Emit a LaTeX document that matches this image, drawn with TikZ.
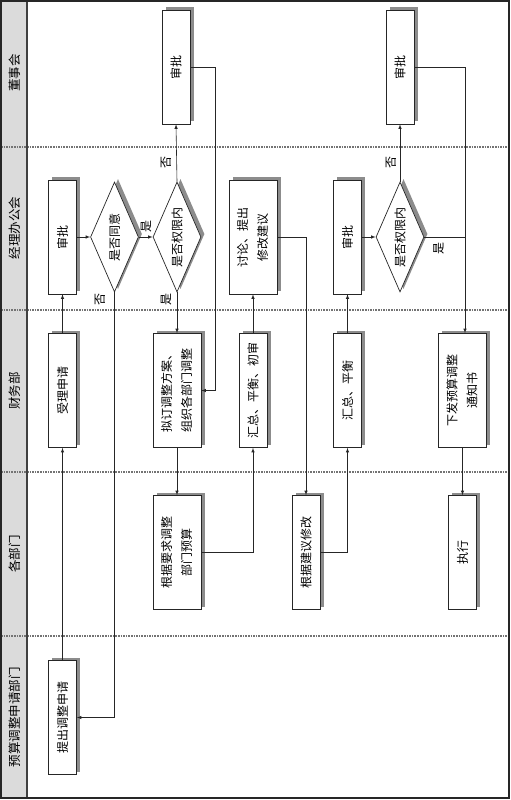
\documentclass[tikz,border=0pt]{standalone}
\usepackage{fontspec}
\newfontfamily\cjk{Noto Sans CJK SC}
\usetikzlibrary{shapes.geometric, shadows}

\begin{document}
\begin{tikzpicture}[x=1pt,y=-1pt,
        task/.style={% For the process boxes
            rectangle,
            draw=black!85,
            line width=0.7pt,
            fill=white,
            inner sep=0pt,
            minimum width=28pt,
            minimum height=114pt,
            font=\cjk\fontsize{12}{20}\selectfont,
            drop shadow={shadow xshift=3.5pt,shadow yshift=3pt,fill=black!45,opacity=1},
            },
        wtask/.style={% For the boxes with two lines
            task,
            minimum width=48pt,
            },
        decision/.style={% For the questions
            diamond,
            draw=black!85,
            line width=0.7pt,
            fill=white,
            inner sep=0pt,
            shape aspect=0.4,
            minimum width=48pt,
            minimum height=110pt,
            font=\cjk\fontsize{12}{20}\selectfont,
            drop shadow={shadow xshift=3.5pt,shadow yshift=3pt,fill=black!45,opacity=1},
            },
        lane/.style={% For the lane names
            font=\cjk\fontsize{12.5}{15}\selectfont,
            },
        mylabel/.style={% yes and no
            inner sep=0pt,
            font=\cjk\fontsize{12}{15}\selectfont,
            },
        ArrowC1/.style={% Arrows
            draw=black!85,
            line width=0.6pt,
            -latex,
            },
        ]
        \useasboundingbox (0,0) rectangle (511,800);
        % Draw the lanes
        \fill[black!14] (1,1) rectangle (27,798);
        \foreach \Y in {147,310,472,636}
        {\draw[black!55,dash pattern=on 1.6pt off 1pt,line width=1.2pt] (1,\Y) -- (509,\Y);}
        \draw[black!75,line width=1.2pt] (27,1) -- (27,798);
        \draw[black!85,line width=1.4pt] (1,1) rectangle (509,798);
        \node[lane] (l1) at (15,73) {\rotatebox{90}{董事会}};
        \node[lane] (l2) at (15,228) {\rotatebox{90}{经理办公会}};
        \node[lane] (l3) at (15,391) {\rotatebox{90}{财务部}};
        \node[lane] (l4) at (15,554) {\rotatebox{90}{各部门}};
        \node[lane] (l5) at (15,717) {\rotatebox{90}{预算调整申请部门}};
        % Draw the boxes
        \node[task] (tc) at (62.5,717.5) {\rotatebox{90}{提出调整申请}};
        \node[task] (sl) at (62.5,390.5) {\rotatebox{90}{受理申请}};
        \node[task] (sp1) at (62.5,237) {\rotatebox{90}{审批}};
        \node[decision] (d1) at (114.5,237) {\rotatebox{90}{是否同意}};
        \node[decision] (d2) at (177,237) {\rotatebox{90}{是否权限内}};
        \node[task] (ds1) at (176,67) {\rotatebox{90}{审批}};
        \node[wtask] (nd) at (177,390.5) {\rotatebox{90}{\begin{tabular}{@{}c@{}}拟订调整方案、\\组织各部门调整\end{tabular}}};
        \node[wtask] (gj1) at (177,552.5) {\rotatebox{90}{\begin{tabular}{@{}c@{}}根据要求调整\\部门预算\end{tabular}}};
        \node[task] (hz1) at (253,390.5) {\rotatebox{90}{汇总、平衡、初审}};
        \node[wtask] (tl) at (253,237) {\rotatebox{90}{\begin{tabular}{@{}c@{}}讨论、提出\\修改建议\end{tabular}}};
        \node[task] (gj2) at (306,552.5) {\rotatebox{90}{根据建议修改}};
        \node[task] (hz2) at (347.5,390.5) {\rotatebox{90}{汇总、平衡}};
        \node[task] (sp2) at (347.5,237) {\rotatebox{90}{审批}};
        \node[decision] (d3) at (400,237) {\rotatebox{90}{是否权限内}};
        \node[task] (ds2) at (400,67) {\rotatebox{90}{审批}};
        \node[wtask] (xf) at (462.5,390.5) {\rotatebox{90}{\begin{tabular}{@{}c@{}}下发预算调整\\通知书\end{tabular}}};
        \node[task] (zx) at (462.5,552.5) {\rotatebox{90}{执行}};
        % yes and no
        \node[mylabel] (y1) at (146,226) {\rotatebox{90}{是}};
        \node[mylabel] (n1) at (100,299) {\rotatebox{90}{否}};
        \node[mylabel] (n2) at (166,162) {\rotatebox{90}{否}};
        \node[mylabel] (y2) at (166,299) {\rotatebox{90}{是}};
        \node[mylabel] (n3) at (391,162) {\rotatebox{90}{否}};
        \node[mylabel] (y3) at (438.5,248) {\rotatebox{90}{是}};
        % Start connecting all.
        \draw[ArrowC1] (tc) -- (sl);
        \draw[ArrowC1] (sl) -- (sp1);
        \draw[ArrowC1] (sp1) -- (d1);
        \draw[ArrowC1] (d1) -- (d2);
        \draw[ArrowC1] (d1.south) |- (tc.east);
        \draw[ArrowC1] (d2.north) -- (ds1.south);
        \draw[ArrowC1] (d2.south) -- (nd.north);
        \draw[ArrowC1] (ds1.east) -- ++(25,0) |- (nd.east);
        \draw[ArrowC1] (nd) -- (gj1);
        \draw[ArrowC1] (gj1.east) -| (hz1.south);
        \draw[ArrowC1] (hz1) -- (tl);
        \draw[ArrowC1] (tl.east) -| (gj2.north);
        \draw[ArrowC1] (gj2.east) -| (hz2.south);
        \draw[ArrowC1] (hz2) -- (sp2);
        \draw[ArrowC1] (sp2) -- (d3);
        \draw[ArrowC1] (d3.north) -- (ds2.south);
        \draw[ArrowC1] (d3.east) -| ([xshift=2.5pt]xf.north);
        \draw[ArrowC1,-] (ds2.east) -| ([xshift=2.5pt]xf.north |- d3.east);
        \draw[ArrowC1] (xf) -- (zx);
\end{tikzpicture}
\end{document}
